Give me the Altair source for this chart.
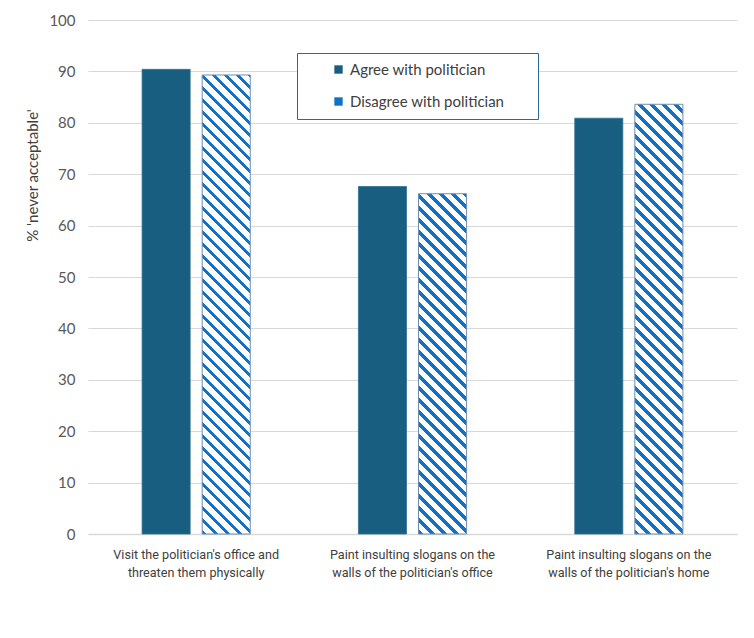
import altair as alt
import pandas as pd

categories = [
    "Visit the politician's office and|threaten them physically",
    "Paint insulting slogans on the|walls of the politician's office",
    "Paint insulting slogans on the|walls of the politician's home",
]
series = ["Agree with politician", "Disagree with politician"]
agree = [90.4, 67.6, 80.9]
disagree = [89.3, 66.2, 83.6]
y_ticks = [0, 10, 20, 30, 40, 50, 60, 70, 80, 90, 100]

DARK = "#185E80"
HATCH = "#1170C8"
FONT = "Lato"
XFONT = "Roboto"

W, H = 649, 514
BAR_W = (W / 3) * 0.5 / 1.8 * 0.8


def hatch(value, period=12.0, blue=4.5):
    """Diagonal stripe fill as a many-stop linear gradient (bbox units)."""
    w = BAR_W
    h = value / 100.0 * H
    k = (w + h) / (w * w + h * h)
    du, dv = k * w, -k * h
    total = w + h
    stops = []
    s = 0.0
    while s < total:
        a = s / total
        b = min((s + blue) / total, 1.0)
        c = min((s + period) / total, 1.0)
        stops += [
            {"offset": a, "color": HATCH},
            {"offset": b, "color": HATCH},
            {"offset": b, "color": "#FFFFFF"},
            {"offset": c, "color": "#FFFFFF"},
        ]
        s += period
    return {
        "gradient": "linear",
        "x1": 0, "y1": 1, "x2": du, "y2": 1 + dv,
        "stops": stops,
    }


rows = []
for i, c in enumerate(categories):
    rows.append({"cat": c, "series": series[0], "value": agree[i]})
    rows.append({"cat": c, "series": series[1], "value": disagree[i]})
df = pd.DataFrame(rows)

x_enc = alt.X(
    "cat:N",
    sort=categories,
    scale=alt.Scale(paddingInner=0.5, paddingOuter=0.25),
    axis=alt.Axis(
        title=None,
        labelAngle=0,
        labelExpr="split(datum.label, '|')",
        labelLineHeight=18,
        labelPadding=14,
        labelFont=XFONT,
        labelFontSize=12.6,
        labelColor="#404040",
        ticks=False,
        domainColor="#D9D9D9",
        domainWidth=1.5,
        grid=False,
        labelLimit=300,
    ),
)
xo_enc = alt.XOffset(
    "series:N",
    scale=alt.Scale(domain=series, paddingInner=0.2, paddingOuter=0),
)
y_enc = alt.Y(
    "value:Q",
    scale=alt.Scale(domain=[0, 100], nice=False),
    axis=alt.Axis(
        values=y_ticks,
        title="% 'never acceptable'",
        titleFontSize=15,
        titleFontWeight="normal",
        titleColor="#404040",
        titleX=-48,
        titleY=155,
        titleAnchor="middle",
        titleAlign="center",
        labelFontSize=15,
        labelColor="#595959",
        labelPadding=13,
        ticks=False,
        domain=False,
        gridColor="#D9D9D9",
        gridWidth=1,
    ),
)

base = alt.Chart(df).encode(x=x_enc, xOffset=xo_enc, y=y_enc)

agree_layer = base.transform_filter(alt.datum.series == series[0]).mark_bar(
    stroke="#2D7196", strokeWidth=0.8
).encode(
    color=alt.Color(
        "series:N",
        scale=alt.Scale(domain=series, range=[DARK, HATCH]),
        legend=alt.Legend(
            title="0000",
            titleOrient="right",
            titleFontSize=10,
            titleColor="#FFFFFF",
            titleOpacity=0,
            titlePadding=2,
            orient="none",
            legendX=209,
            legendY=33,
            symbolType="square",
            symbolSize=70,
            symbolStrokeWidth=0,
            symbolOffset=25,
            labelFontSize=15,
            labelFont=FONT,
            labelColor="#404040",
            rowPadding=16,
            padding=9,
            strokeColor="#2A6A93",
            fillColor="#FFFFFF",
            labelLimit=400,
        ),
    )
)

dis_layers = []
for i, c in enumerate(categories):
    dis_layers.append(
        base.transform_filter(
            (alt.datum.series == series[1]) & (alt.datum.cat == c)
        ).mark_bar(fill=hatch(disagree[i]), stroke="#6E8FB5", strokeWidth=1)
    )

chart = alt.layer(agree_layer, *dis_layers).properties(
    width=W,
    height=H,
    autosize=alt.AutoSizeParams(type="none"),
    padding={"left": 80, "top": 12, "right": 9, "bottom": 96},
    background="#FFFFFF",
).configure_view(stroke=None).configure_axis(
    labelFont=FONT, titleFont=FONT
).configure_legend(labelFont=FONT)

chart.save("out.html", embed_options={"renderer": "svg", "actions": False})
